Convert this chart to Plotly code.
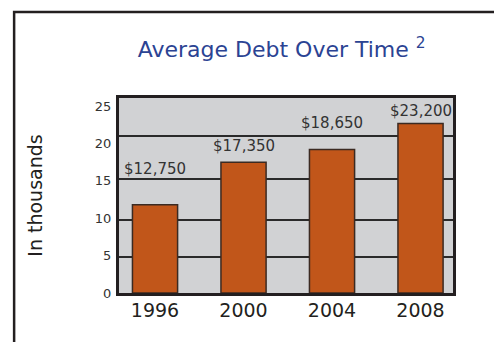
import plotly.graph_objects as go

years = ["1996", "2000", "2004", "2008"]
bar_values = [11.8, 17.5, 19.2, 22.7]          # bar heights (thousands)
value_labels = ["$12,750", "$17,350", "$18,650", "$23,200"]
y_ticks = [0, 5, 10, 15, 20, 25]

label_gap_px = [34, 14, 25, 10]                  # label offset above each bar (style)
grid_lines = [4.8, 9.8, 15.2, 21.0]              # drawn grid rule positions (style)

FONT = "DejaVu Sans"
DARK = "#231f20"

fig = go.Figure()
# invisible trace to activate the grid-only overlay axis
fig.add_trace(go.Scatter(x=[0], y=[0], yaxis="y2", mode="markers",
                         marker=dict(opacity=0), hoverinfo="skip", showlegend=False))
fig.add_trace(go.Bar(
    x=list(range(len(years))), y=bar_values,
    width=0.51,
    marker=dict(color="#c1561a", line=dict(color="#3b2a22", width=1.5)),
    hoverinfo="skip",
))

for i, (v, t, g) in enumerate(zip(bar_values, value_labels, label_gap_px)):
    fig.add_annotation(x=i, y=v, text=t, showarrow=False, yanchor="bottom",
                       yshift=g - 9, font=dict(family=FONT, size=15, color="#333333"))

# outer frame (left and top edges)
fig.add_shape(type="path", xref="paper", yref="paper",
              path="M -0.314,-0.4 L -0.314,1.441 L 1.3,1.441",
              line=dict(color=DARK, width=2.5))

fig.update_layout(
    width=494, height=342,
    margin=dict(l=119, r=41, t=98, b=49),
    paper_bgcolor="white", plot_bgcolor="#d1d2d4",
    showlegend=False,
    title=dict(text="Average Debt Over Time <sup>2</sup>", x=0.487, xanchor="center",
               y=0.855, yanchor="middle", xref="paper", yref="container",
               font=dict(family=FONT, size=22, color="#2b4393")),
    xaxis=dict(
        tickmode="array", tickvals=list(range(len(years))), ticktext=years,
        range=[-0.407, 3.367], showgrid=False, zeroline=False,
        showline=True, mirror=True, linecolor=DARK, linewidth=3,
        ticks="", tickfont=dict(family=FONT, size=19, color=DARK),
        ticklabelstandoff=-2, fixedrange=True,
    ),
    yaxis=dict(
        tickmode="array", tickvals=y_ticks, range=[0, 26.1],
        showgrid=False, zeroline=False,
        showline=True, mirror=True, linecolor=DARK, linewidth=3,
        ticks="", tickfont=dict(family=FONT, size=13, color="#333333"),
        ticklabelstandoff=2, fixedrange=True,
        title=dict(text="In thousands", standoff=48,
                   font=dict(family=FONT, size=19, color=DARK)),
    ),
    yaxis2=dict(
        overlaying="y", matches="y", side="left",
        tickmode="array", tickvals=grid_lines, showticklabels=False,
        showgrid=True, gridcolor="#2a2a2a", gridwidth=1.5, zeroline=False,
        showline=False, ticks="", fixedrange=True, layer="below traces",
    ),
)

fig.write_html("out.html")
